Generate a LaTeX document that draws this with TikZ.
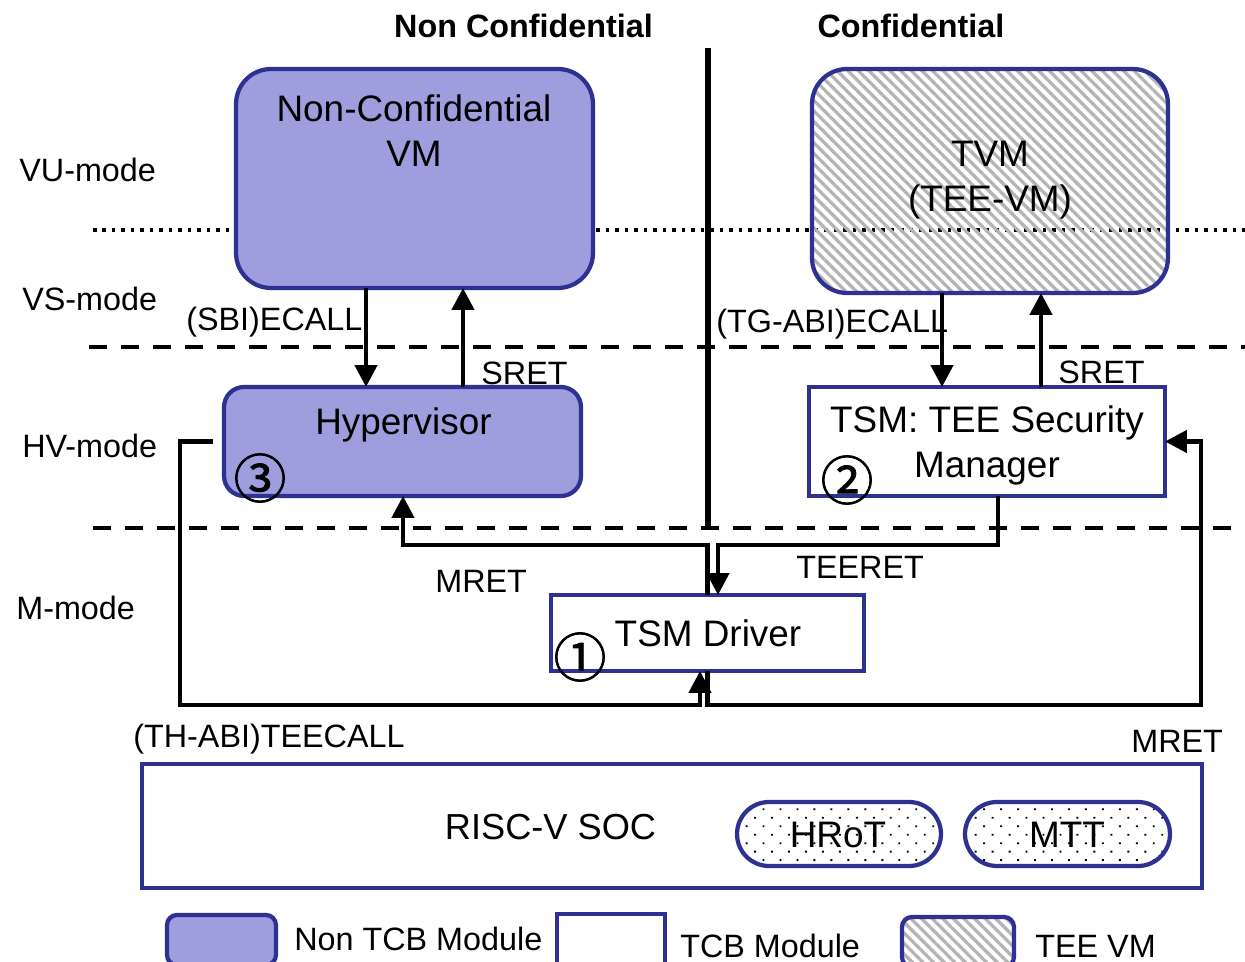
\documentclass[tikz,border=0pt]{standalone}
\usepackage{fontspec}
\setmainfont{Liberation Sans}
\newfontfamily\symfont[FakeBold=1.5]{Noto Sans CJK SC}
\usetikzlibrary{arrows.meta,patterns.meta,calc}

\definecolor{lav}{HTML}{9E9EDE}
\definecolor{navy}{HTML}{2E3192}
\definecolor{hatchgray}{HTML}{B4B4B4}

\tikzset{
  box/.style={draw=navy, line width=0.085cm, inner sep=0pt, outer sep=0pt},
  ntcbbox/.style={box, fill=lav, rounded corners=#1},
  tcbbox/.style={box, fill=white},
  teebox/.style={box, rounded corners=#1,
    pattern={Lines[angle=-45,distance=0.15cm,line width=0.065cm]}, pattern color=hatchgray},
  dotbox/.style={box, rounded corners=0.64cm,
    pattern={Dots[distance=0.24cm,angle=45,radius=0.027cm]}, pattern color=black},
  big/.style={font=\fontsize{21}{25}\selectfont, inner sep=0pt, anchor=base},
  lbl/.style={font=\fontsize{18.4}{22}\selectfont, inner sep=0pt, anchor=base west},
  ttl/.style={font=\bfseries\fontsize{18.4}{22}\selectfont, inner sep=0pt, anchor=base},
  circ/.style={font=\symfont\fontsize{30}{34}\selectfont, inner sep=0pt},
  conn/.style={line width=0.09cm},
  arr/.style={conn, -{Triangle[width=0.44cm,length=0.44cm]}},
  levelsep/.style={line width=0.08cm, dash pattern=on 0.36cm off 0.28cm},
  dotsep/.style={line width=0.07cm, dash pattern=on 0.07cm off 0.12cm},
  divider/.style={line width=0.12cm}
}

\begin{document}
\begin{tikzpicture}[x=0.02cm, y=-0.02cm]
\useasboundingbox (0,0) rectangle (1245,962);

% privilege level separators and the world divider
\draw[dotsep] (93,230) -- (1245,230);
\draw[levelsep] (89,347) -- (1245,347);
\draw[levelsep] (93,528) -- (1245,528);
\draw[divider] (708,48) -- (708,528);

% world titles
\node[ttl] (tnc) at (523.5,38) {Non Confidential};
\node[ttl] (tc)  at (911,38) {Confidential};

% mode labels
\node[lbl] (mvu) at (19,182) {VU-mode};
\node[lbl] (mvs) at (22,311) {VS-mode};
\node[lbl] (mhv) at (22,458) {HV-mode};
\node[lbl] (mm)  at (16,620) {M-mode};

% modules
\node[ntcbbox=0.7cm, minimum width=7.14cm, minimum height=4.38cm] (ncvm) at (414.5,178.5) {};
\node[big] (ncvm1) at (414,122) {Non-Confidential};
\node[big] (ncvm2) at (414,167) {VM};

\node[teebox=0.7cm, minimum width=7.12cm, minimum height=4.48cm] (tvm) at (990,181) {};
\node[big] (tvm1) at (990,167) {TVM};
\node[big] (tvm2) at (990,212) {(TEE-VM)};

\node[ntcbbox=0.4cm, minimum width=7.14cm, minimum height=2.18cm] (hyp) at (402.5,441.5) {};
\node[big] (hyp1) at (403.5,435) {Hypervisor};
\node[circ] (n3) at (260,478) {③};

\node[tcbbox, minimum width=7.12cm, minimum height=2.18cm] (tsm) at (987,441.5) {};
\node[big] (tsm1) at (987,433) {TSM: TEE Security};
\node[big] (tsm2) at (987,478) {Manager};
\node[circ] (n2) at (847,480) {②};

\node[tcbbox, minimum width=6.26cm, minimum height=1.52cm] (drv) at (707.5,633) {};
\node[big] (drv1) at (708,647) {TSM Driver};
\node[circ] (n1) at (580,657) {①};

\node[tcbbox, minimum width=21.2cm, minimum height=2.48cm] (soc) at (672,826) {};
\node[big, font=\fontsize{20.6}{24}\selectfont] (soc1) at (550.5,840) {RISC-V SOC};
\node[dotbox, minimum width=4.08cm, minimum height=1.28cm] (hrot) at (839,834) {};
\node[big] (hrot1) at (838,847) {HRoT};
\node[dotbox, minimum width=4.1cm, minimum height=1.28cm] (mtt) at (1067.5,834) {};
\node[big] (mtt1) at (1067,847) {MTT};

% column and row guides for the connectors
\coordinate (xa) at (366,0);
\coordinate (xb) at (463,0);
\coordinate (xc) at (942,0);
\coordinate (xd) at (1041,0);
\coordinate (xe) at (403,0);
\coordinate (xf) at (998,0);
\coordinate (xg) at (718,0);
\coordinate (xh) at (180,0);
\coordinate (xi) at (700,0);
\coordinate (xj) at (1201,0);
\coordinate (ry) at (0,545);
\coordinate (rb) at (0,705);

% calls and returns
\draw[arr] (ncvm.south -| xa) -- (hyp.north -| xa);
\draw[arr] (hyp.north -| xb) -- (ncvm.south -| xb);
\draw[arr] (tvm.south -| xc) -- (tsm.north -| xc);
\draw[arr] (tsm.north -| xd) -- (tvm.south -| xd);
\draw[arr] (drv.north) -- (drv.north |- ry) -| (hyp.south -| xe);
\draw[arr] (tsm.south -| xf) |- (xg |- ry) -- (drv.north -| xg);
\draw[arr, shorten <=0.22cm] (hyp.west) -- (hyp.west -| xh) |- (xi |- rb) -- (drv.south -| xi);
\draw[arr] (drv.south) |- (xj |- rb) |- (tsm.east);

% connector labels
\node[lbl] (lsbi)  at (186,331) {(SBI)ECALL};
\node[lbl] (lsr1)  at (481,385) {SRET};
\node[lbl] (ltg)   at (716,333) {(TG-ABI)ECALL};
\node[lbl] (lsr2)  at (1058,384) {SRET};
\node[lbl] (lmr1)  at (435,593) {MRET};
\node[lbl] (lteer) at (796,579) {TEERET};
\node[lbl] (lth)   at (133,747) {(TH-ABI)TEECALL};
\node[lbl] (lmr2)  at (1131,753) {MRET};

% legend
\node[ntcbbox=0.2cm, minimum width=2.18cm, minimum height=1.0cm, anchor=north west] (kn) at (167,915) {};
\node[lbl] (knt) at (294,950) {Non TCB Module};
\node[tcbbox, minimum width=2.16cm, minimum height=1.0cm, anchor=north west] (kt) at (557,914) {};
\node[lbl] (ktt) at (680,957) {TCB Module};
\node[teebox=0.2cm, minimum width=2.24cm, minimum height=1.0cm, anchor=north west] (ke) at (902,917) {};
\node[lbl] (ket) at (1035,957) {TEE VM};
\end{tikzpicture}
\end{document}
